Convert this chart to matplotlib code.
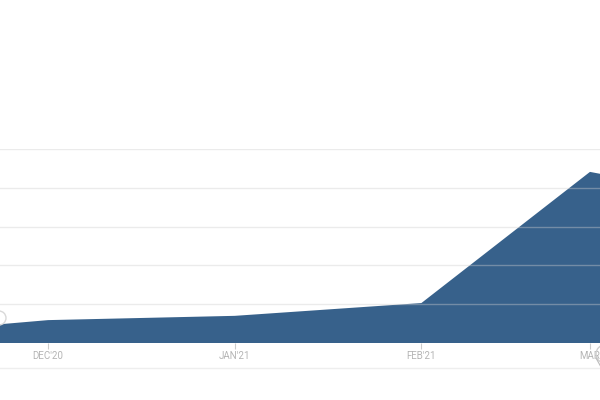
import matplotlib
matplotlib.use('Agg')
import matplotlib.pyplot as plt
from matplotlib.lines import Line2D
from matplotlib.patches import Ellipse
import datetime as dt

# data (chart is cropped on both sides)
dates = ['2020-11-01', '2020-12-01', '2021-01-01', '2021-02-01', '2021-03-01', '2021-04-01']
values = [1.9, 5.9, 7.0, 10.3, 44.1, 35.0]
tick_dates = ['2020-12-01', '2021-01-01', '2021-02-01', '2021-03-01']
tick_labels = ["DEC'20", "JAN'21", "FEB'21", "MAR"]
grid_values = [10, 20, 30, 40, 50]

x = [dt.datetime.strptime(d, '%Y-%m-%d') for d in dates]
xt = [dt.datetime.strptime(d, '%Y-%m-%d') for d in tick_dates]

plt.rcParams['font.family'] = ['Roboto', 'DejaVu Sans']

fig = plt.figure(figsize=(6, 4), dpi=100)
ax = fig.add_axes([0, 57 / 400, 1, 194 / 400])

ax.fill_between(x, values, 0, color='#37618b', lw=0, zorder=1)

for g in grid_values:
    ax.axhline(g, color='#cfcfcf', lw=1, alpha=0.4, zorder=2)

ax.set_ylim(0, 50)
ax.set_xlim(dt.datetime(2020, 11, 23), dt.datetime(2021, 3, 2, 16))

ax.set_xticks(xt)
ax.set_xticklabels(tick_labels)
ax.tick_params(axis='x', length=4.5, width=0.8, color='#cccccc', labelcolor='#b5b5b5',
               labelsize=7, pad=1.5)
ax.set_yticks([])
for s in ax.spines.values():
    s.set_visible(False)

# bottom rule
fig.add_artist(Line2D([0, 1], [32 / 400, 32 / 400], color='#eeeeee', lw=1))


def px_ellipse(cx, cy, r, color):
    # circle given in pixel coords (origin top-left)
    return Ellipse((cx / 600, 1 - cy / 400), 2 * r / 600, 2 * r / 400,
                   transform=fig.transFigure, fill=False, ec=color, lw=1)


# partial markers at the cropped edges
fig.add_artist(px_ellipse(-1, 318, 7, '#d8d8d8'))
fig.add_artist(px_ellipse(605, 354, 9, '#cfcfcf'))
fig.add_artist(Line2D([596 / 600, 601 / 600], [1 - 358 / 400, 1 - 367 / 400],
                      color='#bbbbbb', lw=0.8))

fig.savefig('out.png', dpi=100)
